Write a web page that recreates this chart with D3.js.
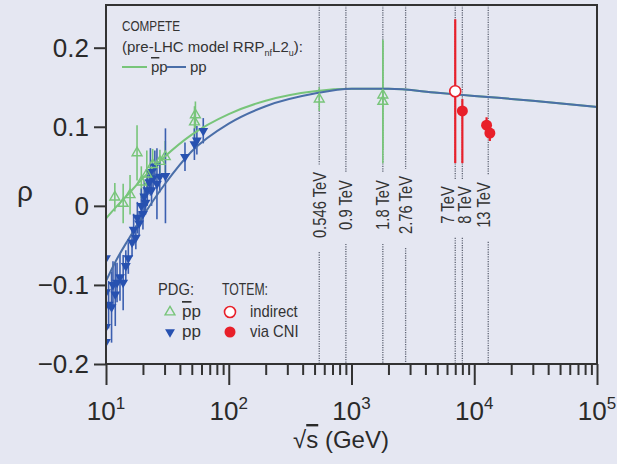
<!DOCTYPE html>
<html>
<head>
<meta charset="utf-8">
<script src="https://cdn.jsdelivr.net/npm/d3@7"></script>
<style>
  body { margin: 0; background: #e5e7f2; }
  svg { display: block; }
</style>
</head>
<body>
<div id="chart"></div>
<script>
// axis ticks
var xMajor = [10, 100, 1000, 10000, 100000];
var xExponents = ["1", "2", "3", "4", "5"];
var yTicks = [-0.2, -0.1, 0, 0.1, 0.2];

// collider energies marked by dotted lines (GeV)
var energies = [546, 900, 1800, 2760, 7000, 8000, 13000];
var energyLabels = ["0.546 TeV", "0.9 TeV", "1.8 TeV", "2.76 TeV", "7 TeV", "8 TeV", "13 TeV"];

// COMPETE model curves (sqrt(s) in GeV, rho)
var modelEnergy = [10, 12, 15, 20, 30, 50, 100, 200, 500, 1000, 2000, 5000, 10000, 30000, 100000];
var modelPbarp = [-0.016, -0.002, 0.014, 0.035, 0.062, 0.090, 0.116, 0.133, 0.145, 0.148, 0.148, 0.143, 0.139, 0.133, 0.125];
var modelPp = [-0.095, -0.070, -0.044, -0.013, 0.027, 0.069, 0.104, 0.126, 0.142, 0.148, 0.148, 0.143, 0.139, 0.133, 0.125];

// PDG points: [sqrt(s), rho, error]
var pdgPbarp = [
  [11.8, 0.011, 0.018], [13.8, 0.003, 0.025], [15.7, 0.014, 0.025], [17.9, 0.067, 0.035],
  [19.4, 0.030, 0.020], [21.5, 0.040, 0.030], [24.0, 0.052, 0.020], [27.5, 0.056, 0.015],
  [30.4, 0.062, 0.020], [52.6, 0.106, 0.020], [53.5, 0.115, 0.017],
  [546, 0.135, 0.015], [1800, 0.140, 0.069], [1800, 0.132, 0.078]
];
var pdgPp = [
  [10.0, -0.066, 0.012], [10.0, -0.109, 0.020], [10.0, -0.153, 0.025], [10.0, -0.172, 0.020],
  [10.5, -0.125, 0.030], [11.1, -0.128, 0.045], [11.4, -0.100, 0.030], [11.9, -0.112, 0.040],
  [12.3, -0.097, 0.025], [13.0, -0.090, 0.030], [13.8, -0.097, 0.035], [14.5, -0.076, 0.020],
  [15.2, -0.066, 0.020], [16.3, -0.046, 0.018], [16.8, -0.030, 0.020], [17.5, -0.040, 0.015],
  [18.0, -0.015, 0.020], [18.6, -0.022, 0.015], [19.4, 0.000, 0.022], [20.0, -0.010, 0.020],
  [20.5, 0.012, 0.020], [21.0, 0.004, 0.015], [21.7, 0.020, 0.020], [22.5, 0.030, 0.015],
  [23.0, 0.043, 0.030], [23.5, 0.020, 0.020], [24.2, 0.035, 0.015], [25.0, 0.050, 0.020],
  [26.0, 0.028, 0.045], [27.4, 0.037, 0.020], [30.5, 0.038, 0.060], [44.0, 0.062, 0.018],
  [52.5, 0.078, 0.020], [55.0, 0.083, 0.018], [62.0, 0.095, 0.016]
];

// TOTEM points: [sqrt(s), rho, error down, error up]
var totemIndirect = [[7000, 0.145, 0.091, 0.091]];
var totemCNI = [[8000, 0.120, 0.066, 0.015], [12600, 0.102, 0.010, 0.010], [13400, 0.092, 0.010, 0.010]];

var width = 617, height = 464;
var green = "#78c57a", blue = "#2751b0", curveBlue = "#4a6ea8", red = "#e8202a";
var narrow = "'Liberation Sans Narrow', 'Liberation Sans', Arial, sans-serif";
var regular = "'Liberation Sans', Arial, sans-serif";

// squeeze a text horizontally, the original uses a condensed face
function condense(sel, factor, target) {
  var len = sel.node().getComputedTextLength();
  sel.attr("textLength", target || len * factor)
    .attr("lengthAdjust", "spacingAndGlyphs");
  return target || len * factor;
}

var x = d3.scaleLog().domain([10, 100000]).range([106, 597]);
var y = d3.scaleLinear().domain([-0.2, 0.254]).range([364, 5]);

var svg = d3.select("#chart")
  .append("svg")
    .attr("width", width)
    .attr("height", height);

svg.append("rect")
  .attr("width", width)
  .attr("height", height)
  .attr("fill", "#e5e7f2");

svg.append("clipPath")
    .attr("id", "plotclip")
  .append("rect")
    .attr("x", 106).attr("y", 5)
    .attr("width", 491).attr("height", 359);

// dotted energy lines with rotated labels
var lineG = svg.append("g");
var labelMid = 205;
var nudge = {"7 TeV": -8, "8 TeV": 2, "13 TeV": -5};
energies.forEach(function(e, i) {
  var lx = x(e) + (nudge[energyLabels[i]] || 0);
  var t = svg.append("text")
    .attr("transform", "translate(" + lx + "," + labelMid + ") rotate(-90)")
    .attr("text-anchor", "middle")
    .attr("dy", "0.36em")
    .style("font-family", narrow)
    .style("font-size", "18px")
    .style("fill", "#333")
    .text(energyLabels[i]);
  var len = condense(t, 0.82);
  [[5, labelMid - len / 2 - 7], [labelMid + len / 2 + 14, 364]].forEach(function(seg) {
    lineG.append("line")
      .attr("x1", x(e)).attr("x2", x(e))
      .attr("y1", seg[0]).attr("y2", seg[1])
      .attr("stroke", "#5f6474")
      .attr("stroke-width", 1.3)
      .attr("stroke-dasharray", "1.2,1.2");
  });
});

var plot = svg.append("g").attr("clip-path", "url(#plotclip)");

// error bars
function errorBars(data, color, width) {
  plot.append("g")
    .selectAll("line")
    .data(data)
    .enter()
    .append("line")
      .attr("x1", function(d) { return x(d[0]); })
      .attr("x2", function(d) { return x(d[0]); })
      .attr("y1", function(d) { return y(d[1] - d[2]); })
      .attr("y2", function(d) { return y(d[1] + (d.length > 3 ? d[3] : d[2])); })
      .attr("stroke", color)
      .attr("stroke-width", width);
}
errorBars(pdgPbarp, green, 1.6);
errorBars(pdgPp, "#3b5fb0", 1.6);
errorBars(totemIndirect, red, 2.2);
errorBars(totemCNI, red, 2.2);

// model curves
var line = d3.line()
  .curve(d3.curveMonotoneX)
  .x(function(d) { return x(d[0]); })
  .y(function(d) { return y(d[1]); });

plot.append("path")
  .datum(modelEnergy.map(function(e, i) { return [e, modelPbarp[i]]; }))
  .attr("fill", "none")
  .attr("stroke", green)
  .attr("stroke-width", 2)
  .attr("d", line);
plot.append("path")
  .datum(modelEnergy.map(function(e, i) { return [e, modelPp[i]]; }))
  .attr("fill", "none")
  .attr("stroke", curveBlue)
  .attr("stroke-width", 2)
  .attr("d", line);

// markers
var triangle = d3.symbol().type(d3.symbolTriangle).size(42);
plot.append("g")
  .selectAll("path")
  .data(pdgPp)
  .enter()
  .append("path")
    .attr("d", triangle)
    .attr("transform", function(d) { return "translate(" + x(d[0]) + "," + y(d[1]) + ") rotate(180)"; })
    .attr("fill", blue);
plot.append("g")
  .selectAll("path")
  .data(pdgPbarp)
  .enter()
  .append("path")
    .attr("d", triangle)
    .attr("transform", function(d) { return "translate(" + x(d[0]) + "," + y(d[1]) + ")"; })
    .attr("fill", "none")
    .attr("stroke", green)
    .attr("stroke-width", 1.4);
plot.append("g")
  .selectAll("circle")
  .data(totemCNI)
  .enter()
  .append("circle")
    .attr("cx", function(d) { return x(d[0]); })
    .attr("cy", function(d) { return y(d[1]); })
    .attr("r", 5.5)
    .attr("fill", red);
plot.append("g")
  .selectAll("circle")
  .data(totemIndirect)
  .enter()
  .append("circle")
    .attr("cx", function(d) { return x(d[0]); })
    .attr("cy", function(d) { return y(d[1]); })
    .attr("r", 5.5)
    .attr("fill", "#fff")
    .attr("stroke", red)
    .attr("stroke-width", 1.6);

// frame
svg.append("rect")
  .attr("x", 106).attr("y", 5)
  .attr("width", 491).attr("height", 359)
  .attr("fill", "none")
  .attr("stroke", "#333")
  .attr("stroke-width", 2);

// x axis: minor then major ticks
var xMinor = [];
xMajor.slice(0, -1).forEach(function(d) {
  for (var k = 2; k < 10; k++) xMinor.push(k * d);
});
var xAxisMinor = svg.append("g")
  .attr("transform", "translate(0,364)")
  .call(d3.axisBottom(x).tickValues(xMinor).tickSize(11).tickFormat(""));
var xAxisMajor = svg.append("g")
  .attr("transform", "translate(0,364)")
  .call(d3.axisBottom(x).tickValues(xMajor).tickSize(21).tickFormat(""));
[xAxisMinor, xAxisMajor].forEach(function(g) {
  g.select(".domain").remove();
  g.selectAll("line").attr("stroke", "#333").attr("stroke-width", 2);
});

xMajor.forEach(function(v, i) {
  var t = svg.append("text")
    .attr("x", x(v))
    .attr("y", 420)
    .attr("text-anchor", "middle")
    .style("font-family", regular)
    .style("font-size", "26px")
    .style("fill", "#2a2a2a");
  t.append("tspan").text("10");
  t.append("tspan").attr("dy", -11).style("font-size", "17px").text(xExponents[i]);
});

// y axis
var yAxis = svg.append("g")
  .attr("transform", "translate(106,0)")
  .call(d3.axisLeft(y).tickValues(yTicks).tickSize(12).tickPadding(5)
    .tickFormat(function(d) { return d === 0 ? "0" : d3.format(".1f")(d); }));
yAxis.select(".domain").remove();
yAxis.selectAll("line").attr("stroke", "#333").attr("stroke-width", 2);
yAxis.selectAll("text")
  .style("font-family", regular)
  .style("font-size", "26px")
  .style("fill", "#2a2a2a");

// axis titles
svg.append("text")
  .attr("x", 17).attr("y", 201)
  .style("font-family", regular)
  .style("font-size", "28px")
  .style("fill", "#2a2a2a")
  .text("ρ");

var xt = svg.append("text")
  .attr("x", 341).attr("y", 448)
  .attr("text-anchor", "middle")
  .style("font-family", regular)
  .style("font-size", "24px")
  .style("fill", "#2a2a2a");
xt.append("tspan").text("√");
xt.append("tspan").style("text-decoration", "overline").text("s");
xt.append("tspan").text(" (GeV)");

// legend: COMPETE model
var leg = svg.append("g")
  .style("font-family", narrow)
  .style("font-size", "15px")
  .style("fill", "#333");
condense(leg.append("text").attr("x", 122).attr("y", 31).text("COMPETE"), 0, 58);
var l2 = leg.append("text").attr("x", 122).attr("y", 52);
l2.append("tspan").text("(pre-LHC model RRP");
l2.append("tspan").attr("dy", 4).style("font-size", "9px").text("nf");
l2.append("tspan").attr("dy", -4).text("L2");
l2.append("tspan").attr("dy", 4).style("font-size", "9px").text("u");
l2.append("tspan").attr("dy", -4).text("):");
leg.append("line").attr("x1", 122).attr("x2", 147).attr("y1", 67).attr("y2", 67)
  .attr("stroke", green).attr("stroke-width", 2);
var l3 = leg.append("text").attr("x", 151).attr("y", 72);
l3.append("tspan").style("text-decoration", "overline").text("p");
l3.append("tspan").text("p");
leg.append("line").attr("x1", 167).attr("x2", 186).attr("y1", 67).attr("y2", 67)
  .attr("stroke", curveBlue).attr("stroke-width", 2);
leg.append("text").attr("x", 190).attr("y", 72).text("pp");

// legend: data
var leg2 = svg.append("g")
  .style("font-family", narrow)
  .style("font-size", "17px")
  .style("fill", "#333");
condense(leg2.append("text").attr("x", 158).attr("y", 295).text("PDG:"), 0, 36);
leg2.append("path").attr("d", triangle)
  .attr("transform", "translate(170,312)")
  .attr("fill", "none").attr("stroke", green).attr("stroke-width", 1.4);
var p1 = leg2.append("text").attr("x", 182).attr("y", 317);
p1.append("tspan").style("text-decoration", "overline").text("p");
p1.append("tspan").text("p");
leg2.append("path").attr("d", triangle)
  .attr("transform", "translate(170,332) rotate(180)")
  .attr("fill", blue);
leg2.append("text").attr("x", 182).attr("y", 337).text("pp");

condense(leg2.append("text").attr("x", 222).attr("y", 295).text("TOTEM:"), 0, 46);
leg2.append("circle").attr("cx", 230).attr("cy", 312).attr("r", 5.5)
  .attr("fill", "#fff").attr("stroke", red).attr("stroke-width", 1.6);
condense(leg2.append("text").attr("x", 250).attr("y", 317).text("indirect"), 0.87);
leg2.append("circle").attr("cx", 230).attr("cy", 332).attr("r", 5.5)
  .attr("fill", red);
condense(leg2.append("text").attr("x", 250).attr("y", 337).text("via CNI"), 0.87);
</script>
</body>
</html>
